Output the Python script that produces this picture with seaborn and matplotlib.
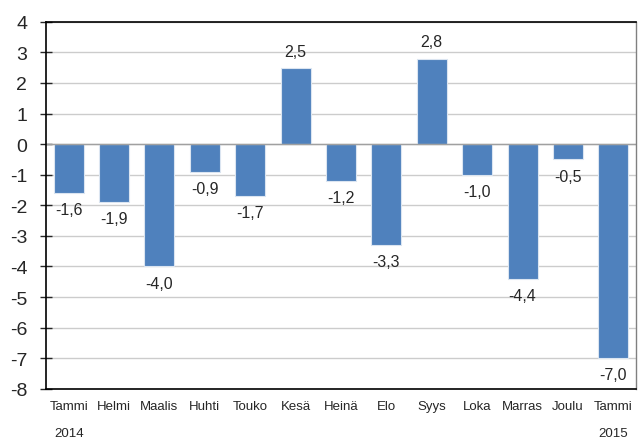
import seaborn as sns
import matplotlib.pyplot as plt
import pandas as pd

# monthly change, Finnish month abbreviations
months = ["Tammi", "Helmi", "Maalis", "Huhti", "Touko", "Kesä", "Heinä",
          "Elo", "Syys", "Loka", "Marras", "Joulu", "Tammi"]
values = [-1.6, -1.9, -4.0, -0.9, -1.7, 2.5, -1.2, -3.3, 2.8, -1.0, -4.4, -0.5, -7.0]
years = ["2014", "2015"]

df = pd.DataFrame({"pos": range(len(months)), "value": values})

sns.set_style("white")
plt.rcParams["font.family"] = ["Liberation Sans", "DejaVu Sans"]
plt.rcParams["axes.unicode_minus"] = False

fig = plt.figure(figsize=(6.38, 4.39), dpi=100)
ax = fig.add_axes([0.072, 0.112, 0.925, 0.836])

sns.barplot(data=df, x="pos", y="value", color="#4F81BD", saturation=1,
            width=0.66, edgecolor="#dbe5f1", linewidth=0.8, ax=ax)

ax.set_ylim(-8, 4)
ax.set_yticks(range(-8, 5))
ax.yaxis.grid(True, color="#cccccc", linewidth=1)
ax.set_axisbelow(True)
ax.axhline(0, color="#a0a0a0", linewidth=1, zorder=1)

for i, v in enumerate(values):
    txt = f"{v:.1f}".replace(".", ",")
    if v >= 0:
        ax.text(i, v + 0.3, txt, ha="center", va="bottom", fontsize=11.5)
    else:
        ax.text(i, v - 0.3, txt, ha="center", va="top", fontsize=11.5)

ax.set_xticks(range(len(months)))
ax.set_xticklabels(months, fontsize=9.5)
ax.tick_params(axis="x", length=0, pad=8)
ax.tick_params(axis="y", labelsize=14, length=9, width=1, direction="inout",
               left=True, pad=9)
ax.set_xlabel("")
ax.set_ylabel("")
ax.set_xlim(-0.5, len(months) - 0.5)

for s in ["left", "bottom", "top"]:
    ax.spines[s].set_color("black")
    ax.spines[s].set_linewidth(1.2)
ax.spines["right"].set_color("#808080")
ax.spines["right"].set_linewidth(1)

ax.text(0, -0.105, years[0], transform=ax.get_xaxis_transform(),
        ha="center", va="top", fontsize=9.5)
ax.text(len(months) - 1, -0.105, years[1], transform=ax.get_xaxis_transform(),
        ha="center", va="top", fontsize=9.5)

plt.savefig("out.png", dpi=100)
plt.close()
